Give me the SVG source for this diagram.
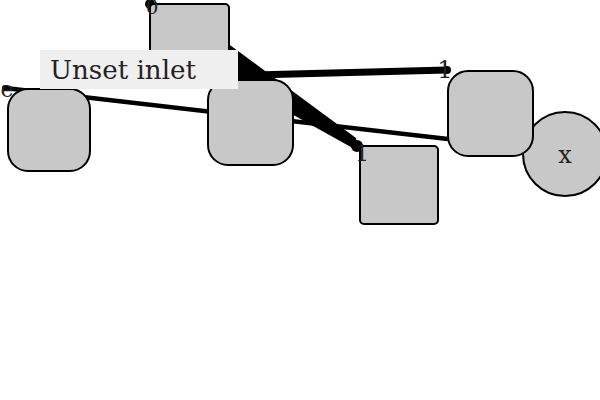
<svg xmlns="http://www.w3.org/2000/svg" width="600" height="400" viewBox="0 0 600 400">
<style>
.node{fill:#c8c8c8;stroke:#000;stroke-width:2}
.lbl{font-family:"DejaVu Serif","Liberation Serif",serif;fill:#222}
.port{fill:#000}
</style>
<rect width="600" height="400" fill="#fff"/>
<g id="connectors">
<line x1="5" y1="88" x2="448" y2="139" stroke="#000" stroke-width="4.5"/>
<line x1="140" y1="78" x2="447" y2="70" stroke="#000" stroke-width="7"/>
<polygon points="200,23 356,138 358,151 200,63" fill="#000"/>
<circle class="port" cx="150" cy="4" r="5"/>
<circle class="port" cx="5" cy="88" r="3"/>
<circle class="port" cx="447" cy="70" r="4"/>
<circle class="port" cx="357" cy="146" r="6"/>
</g>
<g id="nodeA"><rect class="node" x="150" y="4" width="79" height="79" rx="4"/></g>
<g id="nodeB"><rect class="node" x="8" y="89" width="82" height="82" rx="20"/></g>
<g id="nodeC"><rect class="node" x="208" y="80" width="85" height="85" rx="20"/></g>
<g id="nodeD"><rect class="node" x="360" y="146" width="78" height="78" rx="4"/></g>
<g id="nodeF"><circle class="node" cx="565" cy="154" r="42"/><text class="lbl" x="565" y="163" font-size="24" text-anchor="middle">x</text></g>
<g id="nodeE"><rect class="node" x="448" y="71" width="85" height="85" rx="20"/></g>
<g id="portlabels">
<text class="lbl" x="152" y="14" font-size="20" text-anchor="middle">0</text>
<text class="lbl" x="7" y="97" font-size="22" text-anchor="middle">e</text>
<text class="lbl" x="445" y="78" font-size="24" text-anchor="middle">1</text>
<text class="lbl" x="362" y="161" font-size="22" text-anchor="middle">1</text>
</g>
<g id="label">
<rect x="40" y="50" width="198" height="39" fill="#efefef"/>
<text class="lbl" x="50" y="79" font-size="26" textLength="146" lengthAdjust="spacingAndGlyphs">Unset inlet</text>
</g>
</svg>
